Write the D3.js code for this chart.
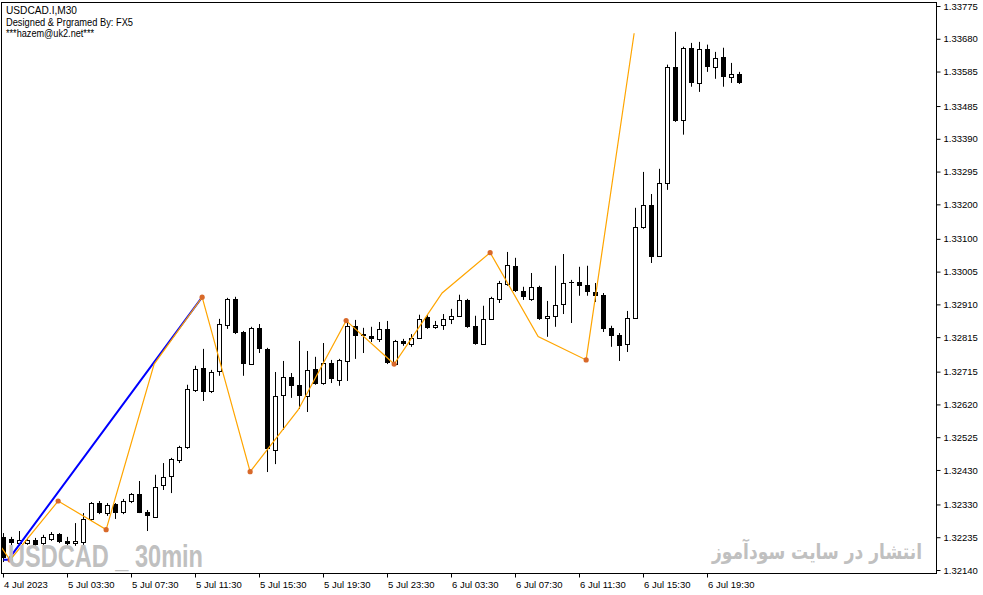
<!DOCTYPE html>
<html><head><meta charset="utf-8">
<script src="https://cdn.jsdelivr.net/npm/d3@7"></script>
<style>html,body{margin:0;padding:0;background:#fff;overflow:hidden}</style>
</head><body>
<svg id="chart" width="983" height="595"></svg>
<script>
// ---- data (USDCAD M30, 4 Jul 23:30 -> 6 Jul 21:30) ----
const openP = [1.32236,1.32230,1.32218,1.32218,1.32227,1.32218,1.32230,1.32244,1.32224,1.32218,
1.32221,1.32288,1.32334,1.32305,1.32331,1.32308,1.32340,1.32360,1.32308,1.32294,
1.32387,1.32413,1.32459,1.32497,1.32662,1.32726,1.32659,1.32717,1.32851,1.32926,
1.32830,1.32737,1.32842,1.32781,1.32488,1.32648,1.32700,1.32677,1.32645,1.32723,
1.32682,1.32740,1.32691,1.32746,1.32848,1.32824,1.32819,1.32810,1.32839,1.32737,
1.32804,1.32795,1.32813,1.32874,1.32845,1.32851,1.32868,1.32877,1.32923,1.32848,
1.32795,1.32868,1.32926,1.32969,1.33022,1.32949,1.32926,1.32961,1.32871,1.32877,
1.32911,1.32975,1.32975,1.32967,1.32946,1.32938,1.32842,1.32822,1.32795,1.32871,
1.33135,1.33199,1.33051,1.33262,1.33599,1.33445,1.33654,1.33552,1.33651,1.33599,
1.33628,1.33570,1.33578];
const highP = [1.32247,1.32236,1.32253,1.32233,1.32233,1.32242,1.32250,1.32247,1.32236,1.32276,
1.32305,1.32337,1.32340,1.32334,1.32334,1.32346,1.32363,1.32398,1.32314,1.32416,
1.32450,1.32465,1.32500,1.32677,1.32732,1.32781,1.32720,1.32868,1.32929,1.32932,
1.32833,1.32845,1.32853,1.32784,1.32714,1.32746,1.32711,1.32804,1.32775,1.32758,
1.32798,1.32749,1.32752,1.32865,1.32865,1.32842,1.32845,1.32859,1.32862,1.32807,
1.32810,1.32824,1.32880,1.32880,1.32862,1.32882,1.32897,1.32938,1.32926,1.32877,
1.32906,1.32932,1.32978,1.33062,1.33045,1.32961,1.33001,1.32964,1.32920,1.33022,
1.33056,1.32981,1.33019,1.33022,1.32972,1.32943,1.32848,1.32827,1.32891,1.33190,
1.33294,1.33230,1.33303,1.33605,1.33700,1.33657,1.33668,1.33671,1.33663,1.33642,
1.33654,1.33610,1.33584];
const lowP = [1.32163,1.32210,1.32210,1.32213,1.32207,1.32213,1.32224,1.32218,1.32210,1.32210,
1.32213,1.32282,1.32302,1.32297,1.32288,1.32302,1.32334,1.32305,1.32253,1.32291,
1.32372,1.32363,1.32450,1.32491,1.32656,1.32630,1.32653,1.32703,1.32839,1.32824,
1.32703,1.32735,1.32769,1.32424,1.32447,1.32546,1.32639,1.32607,1.32598,1.32677,
1.32677,1.32682,1.32674,1.32688,1.32752,1.32769,1.32801,1.32801,1.32737,1.32735,
1.32790,1.32787,1.32810,1.32839,1.32839,1.32836,1.32853,1.32874,1.32842,1.32793,
1.32793,1.32865,1.32914,1.32964,1.32946,1.32923,1.32920,1.32865,1.32816,1.32845,
1.32882,1.32856,1.32935,1.32935,1.32917,1.32830,1.32787,1.32746,1.32772,1.32868,
1.33129,1.33030,1.33048,1.33242,1.33439,1.33402,1.33541,1.33526,1.33584,1.33564,
1.33541,1.33552,1.33549];
const closeP = [1.32175,1.32218,1.32227,1.32227,1.32213,1.32236,1.32244,1.32221,1.32215,1.32224,
1.32288,1.32334,1.32305,1.32329,1.32305,1.32340,1.32360,1.32305,1.32297,1.32381,
1.32410,1.32462,1.32497,1.32665,1.32723,1.32656,1.32714,1.32853,1.32926,1.32827,
1.32737,1.32842,1.32781,1.32491,1.32645,1.32700,1.32674,1.32645,1.32720,1.32679,
1.32740,1.32694,1.32749,1.32848,1.32819,1.32819,1.32810,1.32839,1.32740,1.32804,
1.32795,1.32813,1.32868,1.32842,1.32851,1.32868,1.32877,1.32923,1.32845,1.32795,
1.32868,1.32929,1.32972,1.33025,1.32949,1.32932,1.32961,1.32868,1.32877,1.32909,
1.32972,1.32972,1.32964,1.32946,1.32935,1.32839,1.32819,1.32790,1.32871,1.33135,
1.33199,1.33048,1.33262,1.33599,1.33442,1.33654,1.33552,1.33651,1.33599,1.33625,
1.33570,1.33578,1.33552];

const xTickLabels = ["4 Jul 2023","5 Jul 03:30","5 Jul 07:30","5 Jul 11:30","5 Jul 15:30","5 Jul 19:30",
"5 Jul 23:30","6 Jul 03:30","6 Jul 07:30","6 Jul 11:30","6 Jul 15:30","6 Jul 19:30"];
const xTickIndex = [0,8,16,24,32,40,48,56,64,72,80,88];
const yTickValues = [1.33775,1.33680,1.33585,1.33485,1.33390,1.33295,1.33200,1.33100,1.33005,
1.32910,1.32815,1.32715,1.32620,1.32525,1.32430,1.32330,1.32235,1.32140];

const zigzagIndex = [-5.17,0.83,6.83,12.83,18.83,24.83,30.83,36.83,42.83,48.83,54.83,60.83,66.83,72.83,78.83];
const zigzagPrice = [1.32369,1.32169,1.32340,1.32257,1.32737,1.32931,1.32425,1.32604,1.32863,1.32737,1.32943,1.33060,1.32817,1.32749,1.33696];
const zigzagPivot = [false,true,true,true,false,true,true,false,true,true,false,true,false,true,false];

const trendIndex = [0,0.6,24.83];
const trendPrice = [1.32170,1.32170,1.32931];

const infoLines = ["USDCAD.I,M30","Designed & Prgramed By: FX5","***hazem@uk2.net***"];
const watermarkLeft = "USDCAD _ 30min";
const watermarkRight = "انتشار در سایت سودآموز";

// ---- drawing ----
const svg = d3.select("#chart");
const frame = {l:1.5, t:2.5, r:936.5, b:573.5};
const x = d3.scaleLinear().domain([0, 92]).range([3.5, 739.5]);
const y = d3.scaleLinear().domain([1.32140, 1.33775]).range([570, 6]);
const FONT = "'Liberation Sans', Arial, sans-serif";

svg.append("rect").attr("width",983).attr("height",595).attr("fill","#fff");

svg.append("clipPath").attr("id","plotclip").append("rect")
  .attr("x",frame.l).attr("y",frame.t).attr("width",frame.r-frame.l).attr("height",frame.b-frame.t);

const plot = svg.append("g").attr("clip-path","url(#plotclip)");

const candles = d3.range(openP.length).map(i => ({i, o:openP[i], h:highP[i], l:lowP[i], c:closeP[i]}));

// wicks
plot.append("g").selectAll("line").data(candles).join("line")
  .attr("x1", d => x(d.i)).attr("x2", d => x(d.i))
  .attr("y1", d => y(d.h)).attr("y2", d => y(d.l))
  .attr("stroke","#000").attr("stroke-width",1);

// bodies
plot.append("g").selectAll("rect").data(candles).join("rect")
  .each(function(d){
    const sel = d3.select(this);
    const bull = d.c > d.o;
    const yt = y(Math.max(d.o,d.c)), yb = y(Math.min(d.o,d.c));
    if (bull) {
      sel.attr("x", x(d.i)-2).attr("width",4)
         .attr("y", Math.round(yt)+0.5).attr("height", Math.max(1, Math.round(yb)-Math.round(yt)))
         .attr("fill","#fff").attr("stroke","#000").attr("stroke-width",1);
    } else {
      sel.attr("x", x(d.i)-2.5).attr("width",5)
         .attr("y", Math.round(yt)).attr("height", Math.max(1, Math.round(yb)-Math.round(yt)))
         .attr("fill","#000");
    }
  });

// blue trend line
const trendPts = trendIndex.map((k,i)=>[k, trendPrice[i]]);
plot.append("path").datum(trendPts)
  .attr("d", d3.line().x(d=>x(d[0])).y(d=>y(d[1])))
  .attr("fill","none").attr("stroke","#0000ff").attr("stroke-width",2);

// zigzag
const zzPts = zigzagIndex.map((k,i)=>({k, p:zigzagPrice[i], piv:zigzagPivot[i]}));
plot.append("path").datum(zzPts)
  .attr("d", d3.line().x(d=>x(d.k)).y(d=>y(d.p)))
  .attr("fill","none").attr("stroke","#ffa500").attr("stroke-width",1.2);
plot.append("g").selectAll("circle").data(zzPts.filter(d=>d.piv)).join("circle")
  .attr("cx", d=>x(d.k)).attr("cy", d=>y(d.p)).attr("r",2.6)
  .attr("fill","#d8692a");

// watermarks
plot.append("text").text(watermarkLeft)
  .attr("x",8).attr("y",567).attr("font-family",FONT).attr("font-weight","bold")
  .attr("font-size",32).attr("fill","#c0c0c0")
  .attr("textLength",195).attr("lengthAdjust","spacingAndGlyphs");
plot.append("text").text(watermarkRight)
  .attr("transform","translate(922,559) scale(1,1.18)")
  .attr("x",0).attr("y",0).attr("text-anchor","end")
  .attr("font-family","'DejaVu Sans', 'Noto Sans', sans-serif").attr("font-weight","bold")
  .attr("font-size",18).attr("fill","#c0c0c0")
  .attr("textLength",210).attr("lengthAdjust","spacingAndGlyphs");

// info text
const infoY = [14, 25.5, 36.5];
const infoW = [71, 127, 88];
svg.append("g").selectAll("text").data(infoLines).join("text")
  .text(d=>d).attr("x",6).attr("y",(d,i)=>infoY[i])
  .attr("font-family",FONT).attr("font-size",10.5).attr("fill","#000")
  .attr("textLength",(d,i)=>infoW[i]).attr("lengthAdjust","spacingAndGlyphs");

// frame
svg.append("rect").attr("x",frame.l).attr("y",frame.t)
  .attr("width",frame.r-frame.l).attr("height",frame.b-frame.t)
  .attr("fill","none").attr("stroke","#000").attr("stroke-width",1);

// right price axis
const yAxis = svg.append("g").attr("transform",`translate(${frame.r},0)`)
  .call(d3.axisRight(y).tickValues(yTickValues).tickSize(4).tickPadding(3)
        .tickFormat(d3.format(".5f")));
yAxis.select(".domain").remove();
yAxis.selectAll("text").attr("font-family",FONT).attr("font-size",9.5).attr("fill","#000");

// bottom time axis
const xAxis = svg.append("g").attr("transform",`translate(0,${frame.b})`)
  .call(d3.axisBottom(x).tickValues(xTickIndex).tickSize(4).tickPadding(4).offset(0)
        .tickFormat((d,i)=>xTickLabels[i]));
xAxis.select(".domain").remove();
xAxis.selectAll("text").attr("text-anchor","start").attr("x",0.5)
  .attr("font-family",FONT).attr("font-size",9.5).attr("fill","#000");
</script>
</body></html>
